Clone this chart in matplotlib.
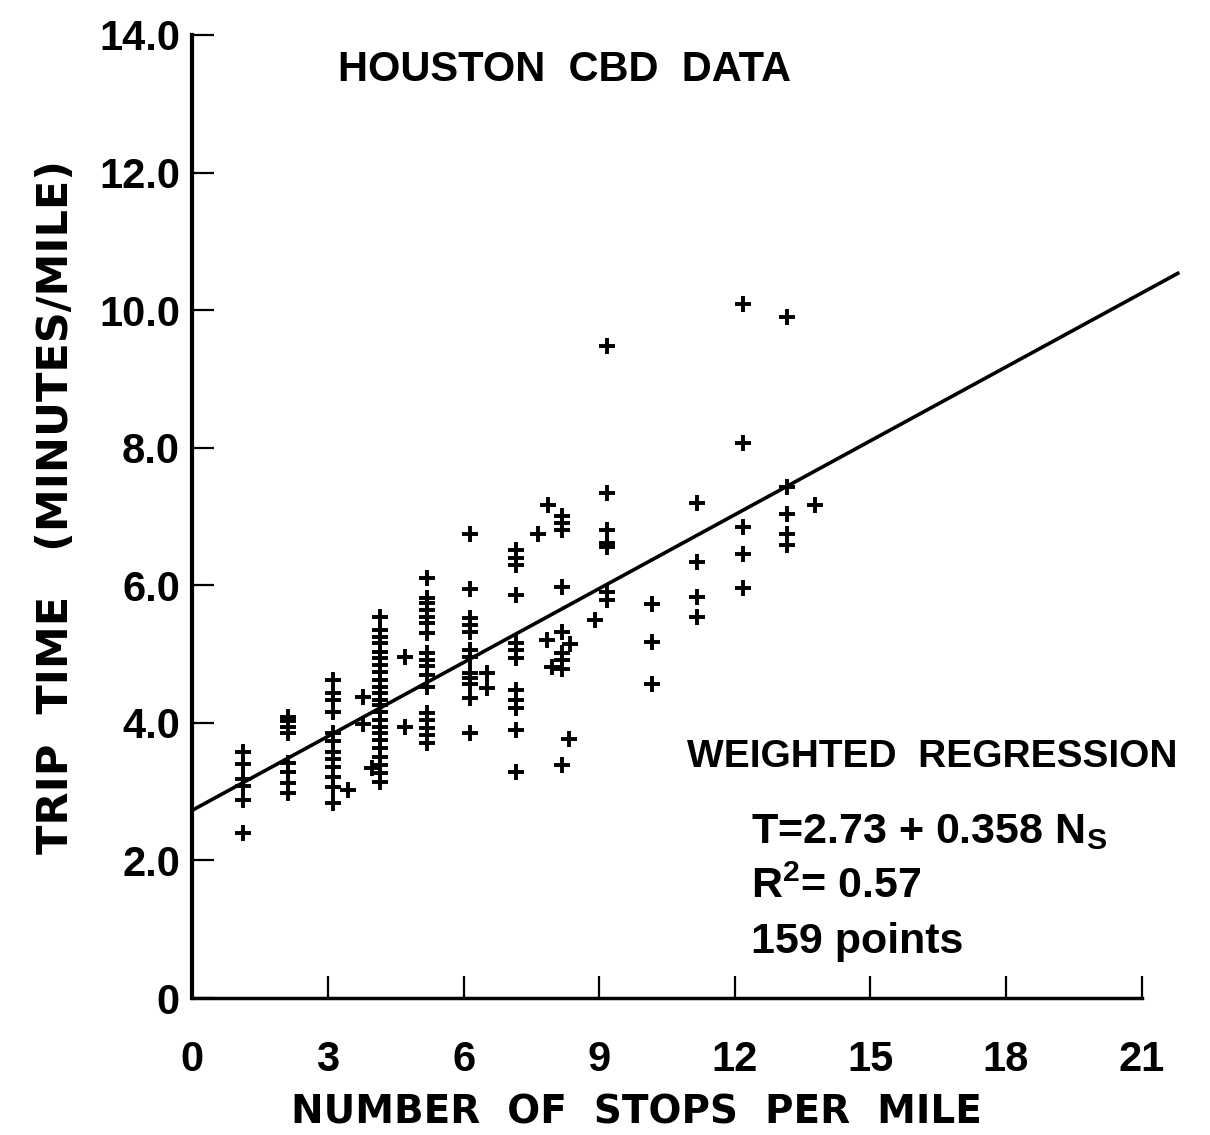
import matplotlib
matplotlib.use("Agg")
import matplotlib.pyplot as plt

plt.rcParams['font.family'] = ['Liberation Sans', 'DejaVu Sans']

# stops per mile (columns sit slightly right of the integer ticks in the scan)
col_x = [1.12, 2.11, 3.12, 4.15, 5.18, 6.14, 7.15, 8.17, 9.17, 10.16, 11.16, 12.18, 13.16]
col_y = [
    [3.58, 3.40, 3.18, 3.08, 2.88, 2.40],
    [4.09, 4.02, 3.94, 3.85, 3.41, 3.29, 3.12, 2.98],
    [4.62, 4.43, 4.33, 4.16, 3.85, 3.73, 3.58, 3.48, 3.36, 3.22, 3.07, 2.83],
    [5.54, 5.35, 5.25, 5.16, 5.03, 4.94, 4.84, 4.74, 4.62, 4.52, 4.43, 4.33,
     4.26, 4.16, 4.04, 3.94, 3.85, 3.75, 3.63, 3.51, 3.39, 3.27, 3.14],
    [6.10, 5.81, 5.74, 5.64, 5.54, 5.45, 5.30, 5.01, 4.91, 4.82, 4.69, 4.52,
     4.14, 4.04, 3.92, 3.82, 3.70],
    [6.75, 5.95, 5.52, 5.42, 5.32, 5.06, 4.96, 4.72, 4.65, 4.57, 4.36, 3.85],
    [6.51, 6.39, 6.29, 5.86, 5.16, 5.06, 4.94, 4.48, 4.33, 4.21, 3.90, 3.29],
    [7.00, 6.90, 6.80, 5.98, 5.32, 5.01, 4.91, 4.79, 3.39],
    [9.48, 7.34, 6.80, 6.62, 6.55, 5.90, 5.78],
    [5.73, 5.18, 4.56],
    [7.20, 6.34, 5.83, 5.54],
    [10.09, 8.07, 6.85, 6.46, 5.96],
    [9.90, 7.43, 7.04, 6.75, 6.58],
]
# points lying between the columns
extra_x = [3.45, 3.78, 3.78, 3.97, 4.70, 4.70, 6.52, 6.52, 7.65, 7.87, 7.84,
           7.95, 8.35, 8.34, 8.91, 13.78]
extra_y = [3.02, 4.38, 3.99, 3.34, 4.96, 3.94, 4.73, 4.50, 6.75, 7.17, 5.20,
           4.81, 5.15, 3.77, 5.49, 7.17]

# weighted regression T = a + b*Ns
a, b = 2.73, 0.358
line_x = [0, 21.8]

xticks = [0, 3, 6, 9, 12, 15, 18, 21]
yticks = [0, 2, 4, 6, 8, 10, 12, 14]
ytick_labels = ['0', '2.0', '4.0', '6.0', '8.0', '10.0', '12.0', '14.0']

xs, ys = [], []
for x, vals in zip(col_x, col_y):
    xs += [x] * len(vals)
    ys += vals
xs += extra_x
ys += extra_y

fig = plt.figure(figsize=(12.1, 11.35), dpi=100)
ax = fig.add_axes([0.159, 0.1207, 0.7845, 0.8485])

ax.plot(xs, ys, linestyle='none', marker='+', color='black', markersize=11, markeredgewidth=2.8)
ax.plot(line_x, [a + b * v for v in line_x], color='black', lw=2.6, clip_on=False)

ax.set_xlim(0, 21)
ax.set_ylim(0, 14)
ax.spines['top'].set_visible(False)
ax.spines['right'].set_visible(False)
ax.spines['left'].set_linewidth(3)
ax.spines['bottom'].set_linewidth(2.5)

ax.set_xticks(xticks)
ax.set_yticks(yticks)
ax.set_yticklabels(ytick_labels)
ax.tick_params(axis='x', direction='in', length=16, width=1.6, pad=30, labelsize=30)
ax.tick_params(axis='y', direction='in', length=16, width=1.6, pad=9, labelsize=30)
for lab in ax.get_xticklabels() + ax.get_yticklabels():
    lab.set_fontweight('bold')

ax.set_xlabel('NUMBER  OF  STOPS  PER  MILE', fontsize=28, fontweight='bold',
              family='DejaVu Sans', labelpad=10)
ax.xaxis.label.set_x(0.468)
ax.set_ylabel('TRIP  TIME   (MINUTES/MILE)', fontsize=31, fontweight='bold',
              family='DejaVu Sans', labelpad=16)
ax.yaxis.label.set_y(0.51)

ax.text(0.392, 0.964, 'HOUSTON  CBD  DATA', transform=ax.transAxes, fontsize=30,
        ha='center', va='center', fontweight='bold')
ax.text(0.521, 0.250, 'WEIGHTED  REGRESSION', transform=ax.transAxes, fontsize=28,
        ha='left', va='center', fontweight='bold')
ax.text(0.589, 0.172, r'T=2.73 + 0.358 N$_\mathregular{S}$', transform=ax.transAxes,
        fontsize=31, ha='left', va='center', fontweight='bold')
ax.text(0.589, 0.115, r'R$^\mathregular{2}$= 0.57', transform=ax.transAxes, fontsize=31,
        ha='left', va='center', fontweight='bold')
ax.text(0.589, 0.058, '159 points', transform=ax.transAxes, fontsize=31,
        ha='left', va='center', fontweight='bold')

fig.savefig('out.png', dpi=100)
